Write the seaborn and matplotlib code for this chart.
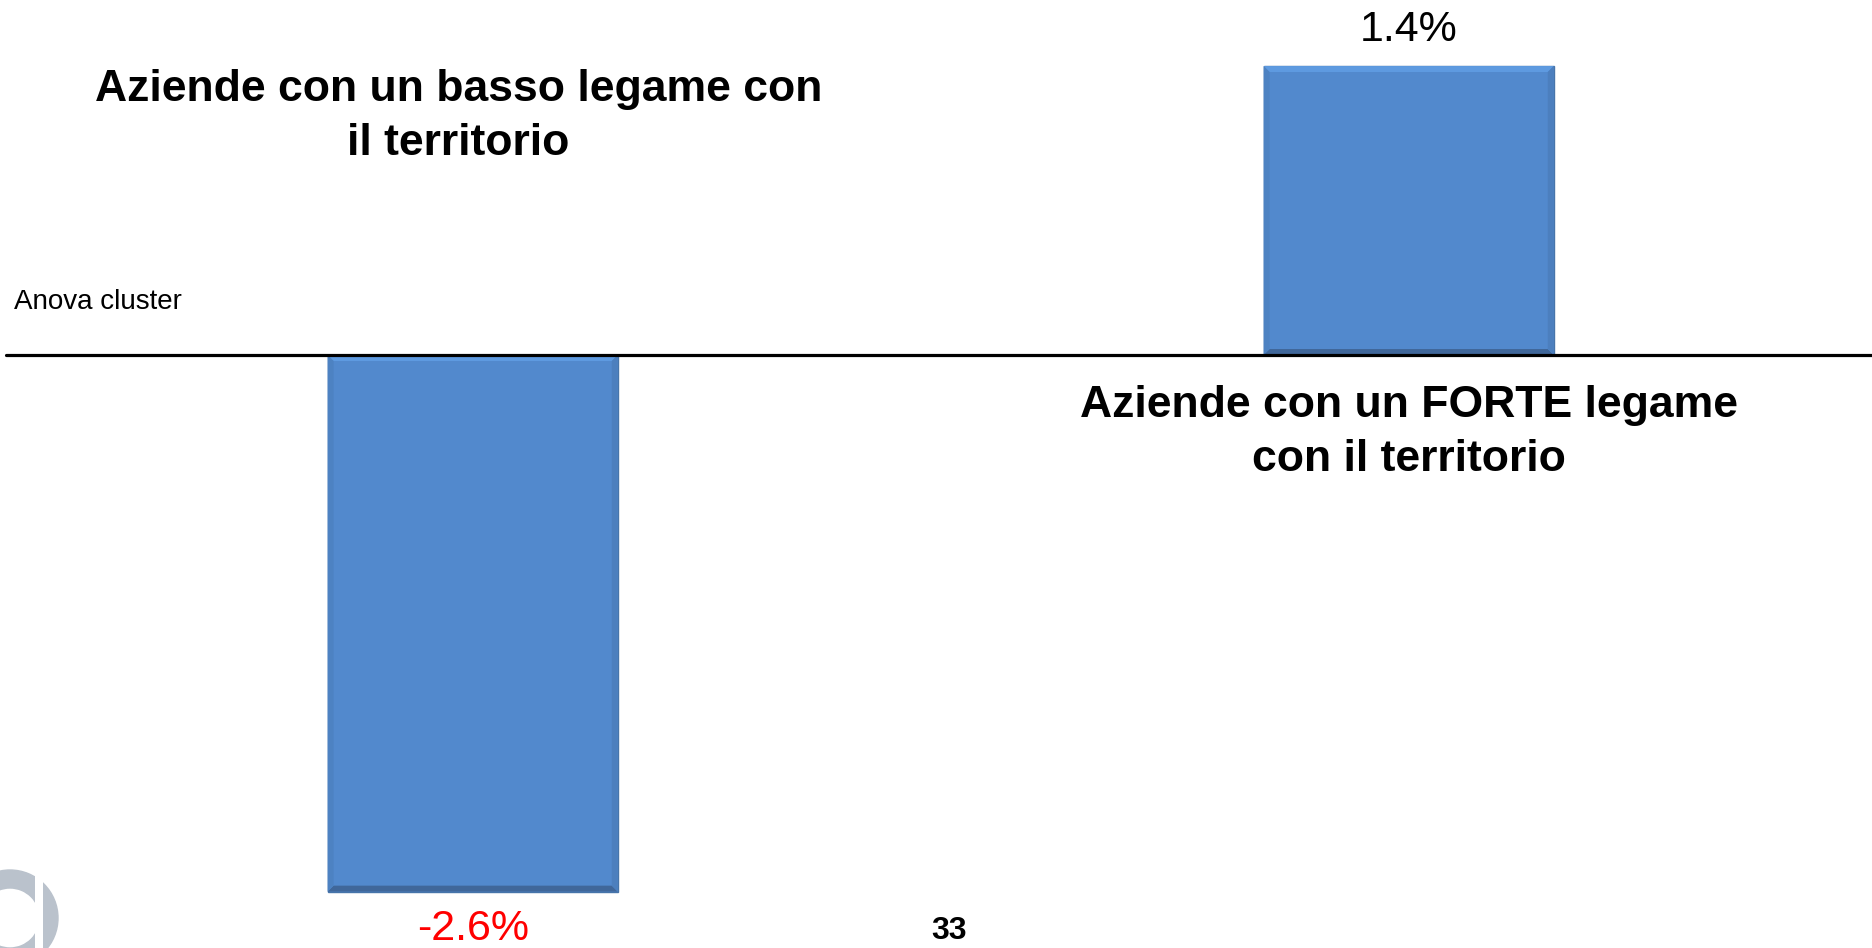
import matplotlib
matplotlib.use("Agg")
import matplotlib.pyplot as plt
import seaborn as sns
from matplotlib.patches import Wedge, Rectangle, Circle, Polygon

# data
categories = ["basso legame", "FORTE legame"]
values = [-2.6, 1.4]
value_labels = ["-2.6%", "1.4%"]
label_colors = ["#FF0000", "#000000"]
group_titles = ["Aziende con un basso legame con\nil territorio",
                "Aziende con un FORTE legame\ncon il territorio"]
title_x = [-0.015, 1.0]
title_y = [1.155, -0.375]

sns.set_theme(style="white")
plt.rcParams["font.family"] = ["Liberation Sans", "DejaVu Sans"]
plt.rcParams["text.color"] = "black"

fig = plt.figure(figsize=(18.72, 9.48), dpi=100)
ax = fig.add_axes([0, 0, 1, 1])

sns.barplot(x=categories, y=values, color="#5289CD", saturation=1,
            width=0.31, edgecolor="#4775AA", linewidth=1.0, ax=ax)

ax.set_xlim(-0.505, 1.495)
ax.set_ylim(-2.873, 1.72)
ax.axis("off")

# soft bevel on the bars, built from the drawn rectangles
bx = 6 / 936
by = 6 / 206.4
for p in list(ax.patches):
    x0, y0 = p.get_x(), p.get_y()
    x1, y1 = x0 + p.get_width(), y0 + p.get_height()
    lo, hi = min(y0, y1), max(y0, y1)
    ax.add_patch(Polygon([(x0, hi), (x1, hi), (x1 - bx, hi - by), (x0 + bx, hi - by)],
                         closed=True, color="#5E9AE0", lw=0, zorder=3))
    ax.add_patch(Polygon([(x0, lo), (x1, lo), (x1 - bx, lo + by), (x0 + bx, lo + by)],
                         closed=True, color="#40679A", lw=0, zorder=3))
    ax.add_patch(Polygon([(x0, lo), (x0, hi), (x0 + bx, hi - by), (x0 + bx, lo + by)],
                         closed=True, color="#4D82C2", lw=0, zorder=3))
    ax.add_patch(Polygon([(x1, lo), (x1, hi), (x1 - bx, hi - by), (x1 - bx, lo + by)],
                         closed=True, color="#4C7FBE", lw=0, zorder=3))

# zero line
ax.axhline(0, xmin=6 / 1872, xmax=1, color="black", lw=2.3, zorder=4)

# value labels
for i, (v, lab, c) in enumerate(zip(values, value_labels, label_colors)):
    off = 26 if v > 0 else -27
    ax.annotate(lab, xy=(i, v), xytext=(0, off), textcoords="offset points",
                ha="center", va="center", fontsize=31, color=c)

# group titles
for x, t, y in zip(title_x, group_titles, title_y):
    ax.text(x, y, t, ha="center", va="center", fontsize=32,
            fontweight="bold", linespacing=1.4)

fig.text(14 / 1872, 1 - 302 / 948, "Anova cluster", fontsize=20,
         ha="left", va="center")
fig.text(949 / 1872, 1 - 931 / 948, "33", fontsize=23, fontweight="bold",
         ha="center", va="center")

# grey logo fragment bottom-left (pixel coords)
grey = "#BAC2CC"
ring = Wedge((10, 30), 48, 0, 360, width=18, color=grey, transform=None, figure=fig)
ring.set_clip_path(Rectangle((-10, -10), 45, 120, transform=None))
disc = Circle((10, 30), 48, color=grey, transform=None, figure=fig)
disc.set_clip_path(Rectangle((43, -10), 40, 120, transform=None))
fig.patches.extend([ring, disc])

fig.savefig("out.png", dpi=100)
